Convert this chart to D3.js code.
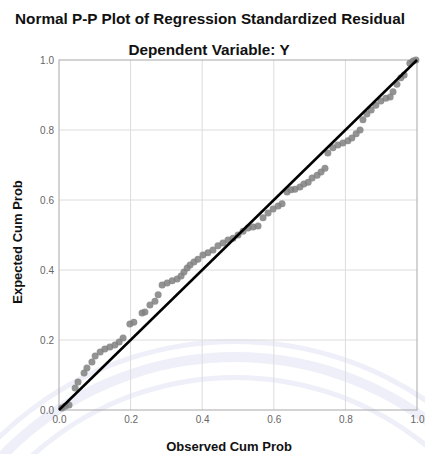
<!DOCTYPE html>
<html lang="en">
  <head>
    <meta charset="UTF-8" />
    <title>Normal P-P Plot</title>
    <script src="https://d3js.org/d3.v7.min.js"></script>
    <style>
      body { margin: 0; background: #fff; }
      text { font-family: "Liberation Sans", Arial, sans-serif; }
      .title { font-size: 15.3px; font-weight: bold; fill: #111; }
      .axis-label { font-size: 13px; font-weight: bold; fill: #111; }
      .tick text { font-size: 10px; fill: #666; }
      .grid line { stroke: #dcdcdc; stroke-width: 1; }
    </style>
  </head>
  <body>
    <svg width="425" height="454"></svg>
    <script>
      const width = 425;
      const height = 454;
      const margin = { top: 60, right: 8, bottom: 44, left: 59 };

      // observed vs expected cumulative probability
      const observed = [
        0.008, 0.017, 0.028, 0.045, 0.053, 0.070, 0.078, 0.092, 0.101, 0.115,
        0.128, 0.142, 0.156, 0.168, 0.179, 0.198, 0.209, 0.232, 0.240, 0.254,
        0.268, 0.277, 0.288, 0.302, 0.316, 0.330, 0.341, 0.349, 0.358, 0.366,
        0.377, 0.388, 0.402, 0.416, 0.430, 0.444, 0.458, 0.472, 0.486, 0.500,
        0.514, 0.528, 0.542, 0.556, 0.570, 0.584, 0.598, 0.612, 0.623, 0.637,
        0.648, 0.659, 0.673, 0.684, 0.696, 0.707, 0.721, 0.732, 0.743, 0.751,
        0.765, 0.779, 0.793, 0.807, 0.818, 0.830, 0.841, 0.849, 0.860, 0.872,
        0.885, 0.899, 0.913, 0.925, 0.933, 0.944, 0.955, 0.964, 0.980, 0.989,
        0.997
      ];
      const expected = [
        0.006, 0.011, 0.014, 0.063, 0.080, 0.106, 0.120, 0.137, 0.154, 0.166,
        0.174, 0.180, 0.186, 0.194, 0.206, 0.246, 0.251, 0.277, 0.280, 0.300,
        0.311, 0.329, 0.357, 0.363, 0.369, 0.374, 0.383, 0.394, 0.406, 0.414,
        0.423, 0.431, 0.443, 0.449, 0.457, 0.469, 0.477, 0.486, 0.491, 0.500,
        0.511, 0.520, 0.523, 0.526, 0.549, 0.563, 0.574, 0.583, 0.589, 0.623,
        0.629, 0.631, 0.637, 0.646, 0.651, 0.663, 0.671, 0.680, 0.691, 0.734,
        0.749, 0.757, 0.763, 0.769, 0.777, 0.789, 0.800, 0.829, 0.846, 0.857,
        0.871, 0.883, 0.891, 0.894, 0.909, 0.931, 0.949, 0.957, 0.991, 0.997,
        1.000
      ];
      const ticks = [0, 0.2, 0.4, 0.6, 0.8, 1.0];

      const svg = d3.select("svg");

      // faint watermark arcs in the background
      const wm = svg.append("g").attr("opacity", 0.6);
      [300, 318, 336].forEach((r, i) => {
        wm.append("path")
          .attr("d", d3.arc()({ innerRadius: r, outerRadius: r + (i === 1 ? 10 : 5), startAngle: -1.25, endAngle: 1.25 }))
          .attr("transform", "translate(235, 680)")
          .attr("fill", "#e3e6f4");
      });

      const x = d3.scaleLinear().domain([0, 1]).range([margin.left, width - margin.right]);
      const y = d3.scaleLinear().domain([0, 1]).range([height - margin.bottom, margin.top]);

      // gridlines
      const grid = svg.append("g").attr("class", "grid");
      grid.selectAll(".gx").data(ticks.slice(1, -1)).enter().append("line")
        .attr("x1", d => x(d)).attr("x2", d => x(d))
        .attr("y1", y(0)).attr("y2", y(1));
      grid.selectAll(".gy").data(ticks.slice(1, -1)).enter().append("line")
        .attr("y1", d => y(d)).attr("y2", d => y(d))
        .attr("x1", x(0)).attr("x2", x(1));

      // frame
      svg.append("rect")
        .attr("x", x(0)).attr("y", y(1))
        .attr("width", x(1) - x(0)).attr("height", y(0) - y(1))
        .attr("fill", "none").attr("stroke", "#a8a8a8");

      // axes (labels only)
      svg.append("g")
        .attr("transform", `translate(0, ${y(0)})`)
        .call(d3.axisBottom(x).tickValues(ticks).tickFormat(d3.format(".1f")).tickSize(0).tickPadding(6))
        .call(g => g.select(".domain").remove());
      svg.append("g")
        .attr("transform", `translate(${x(0)}, 0)`)
        .call(d3.axisLeft(y).tickValues(ticks).tickFormat(d3.format(".1f")).tickSize(0).tickPadding(5))
        .call(g => g.select(".domain").remove());

      // points
      const pts = observed.map((o, i) => ({ o, e: expected[i] }));
      svg.append("g").selectAll("circle").data(pts).enter().append("circle")
        .attr("cx", d => x(d.o))
        .attr("cy", d => y(d.e))
        .attr("r", 3.5)
        .attr("fill", "#808080")
        .attr("fill-opacity", 0.85);

      // reference diagonal
      svg.append("line")
        .attr("x1", x(0)).attr("y1", y(0))
        .attr("x2", x(1)).attr("y2", y(1))
        .attr("stroke", "#000").attr("stroke-width", 2.5);

      // titles
      svg.append("text").attr("class", "title")
        .attr("x", 210).attr("y", 24).attr("text-anchor", "middle")
        .text("Normal P-P Plot of Regression Standardized Residual");
      svg.append("text").attr("class", "title")
        .attr("x", 209).attr("y", 55).attr("text-anchor", "middle")
        .text("Dependent Variable: Y");

      svg.append("text").attr("class", "axis-label")
        .attr("x", 229).attr("y", 451).attr("text-anchor", "middle")
        .text("Observed Cum Prob");
      svg.append("text").attr("class", "axis-label")
        .attr("transform", "translate(22, 242) rotate(-90)")
        .attr("text-anchor", "middle")
        .text("Expected Cum Prob");
    </script>
  </body>
</html>
